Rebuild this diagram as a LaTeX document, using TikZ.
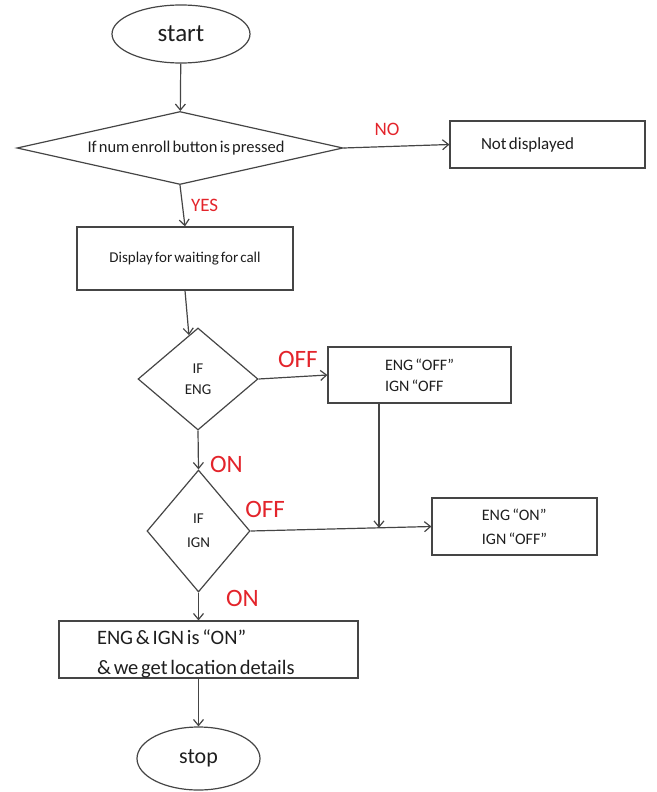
\documentclass[tikz,border=0pt]{standalone}
\usepackage{fontspec}
\setmainfont{Carlito}[WordSpace=0.6]
\usetikzlibrary{arrows.meta,calc,shapes.geometric}
\definecolor{linegray}{HTML}{454545}
\definecolor{textgray}{HTML}{1E1E1E}
\definecolor{redlabel}{HTML}{E3242B}

\begin{document}
\begin{tikzpicture}[x=1pt,y=-1pt,>={Straight Barb[length=6pt,width=10pt]},line width=1.2pt,
  color=linegray,text=textgray,
  terminal/.style={draw,ellipse,inner sep=0pt},
  decision/.style={draw,diamond,inner sep=0pt,align=center},
  procbox/.style={draw,rectangle,inner sep=0pt},
  flow/.style={->},
  answer/.style={text=redlabel,inner sep=0pt}]
  \useasboundingbox (0,0) rectangle (656,792);
  \node[terminal,minimum width=138pt,minimum height=58pt,font=\fontsize{25}{30}\selectfont] (start) at (181,34) {start};
  \node[decision,minimum width=326pt,minimum height=73pt,aspect=4.4,font=\fontsize{16.5}{19}\selectfont] (enroll) at (180,148) {\hspace*{12pt}If num enroll button is pressed};
  \node[procbox,minimum width=195pt,minimum height=47pt,text width=133pt,inner xsep=31pt,align=flush left,font=\fontsize{17}{20}\selectfont] (notshown) at (547.5,144.5) {Not displayed};
  \node[procbox,minimum width=216pt,minimum height=63pt,font=\fontsize{15}{18}\selectfont] (disp) at (185,258.5) {Display for waiting for call};
  \node[decision,minimum width=120pt,minimum height=102pt,aspect=1.18,font=\fontsize{15}{21}\selectfont] (eng) at (198,379) {IF\\ENG};
  \node[procbox,minimum width=183pt,minimum height=56pt,align=left,font=\fontsize{16}{21}\selectfont] (engoff) at (419.5,375) {ENG “OFF”\\IGN “OFF};
  \node[decision,minimum width=103pt,minimum height=122pt,aspect=0.84,font=\fontsize{15}{24}\selectfont] (ign) at (198.5,531) {IF\\IGN};
  \node[procbox,minimum width=165pt,minimum height=57pt,align=left,font=\fontsize{16}{24}\selectfont] (engon) at (514.5,526.5) {ENG “ON”\\IGN “OFF”};
  \node[procbox,minimum width=299pt,minimum height=57pt,text width=223pt,inner xsep=38pt,text height=23pt,align=flush left,font=\fontsize{20.5}{30}\selectfont] (located) at (208.5,649.5) {ENG \& IGN is “ON”\\\& we get location details};
  \node[terminal,minimum width=123pt,minimum height=63pt,font=\fontsize{22}{26}\selectfont] (stop) at (198.5,758.5) {stop};
  \coordinate (join) at ($(ign.east)!0.71!(engon.west)$);

  \draw[flow] (start) -- (enroll);
  \draw[flow] (enroll.east) -- node[answer,pos=0.41,above=10pt,font=\fontsize{19}{22}\selectfont]{NO} (notshown.west);
  \draw[flow] (enroll.south) -- node[answer,pos=0.48,right=8pt,font=\fontsize{19}{22}\selectfont]{YES} (disp.north);
  \draw[flow] (disp.south) -- ($(eng.north)!0.15!(eng.west)$);
  \draw[flow] (eng.east) -- node[answer,pos=0.57,above=8pt,font=\fontsize{25}{28}\selectfont]{OFF} (engoff.west);
  \draw[flow] (eng.south) -- node[answer,pos=0.875,right=11pt,font=\fontsize{25}{28}\selectfont]{ON} (ign.north);
  \draw[flow] (ign.east) -- node[answer,pos=0.08,above=12.5pt,font=\fontsize{25}{28}\selectfont]{OFF} (engon.west);
  \draw[flow] (engoff.south -| join) -- (join);
  \draw[flow] (ign.south) -- node[answer,pos=0.2,right=27pt,font=\fontsize{25}{28}\selectfont]{ON} (ign.south |- located.north);
  \draw[flow] (stop.north |- located.south) -- (stop.north);
\end{tikzpicture}
\end{document}
